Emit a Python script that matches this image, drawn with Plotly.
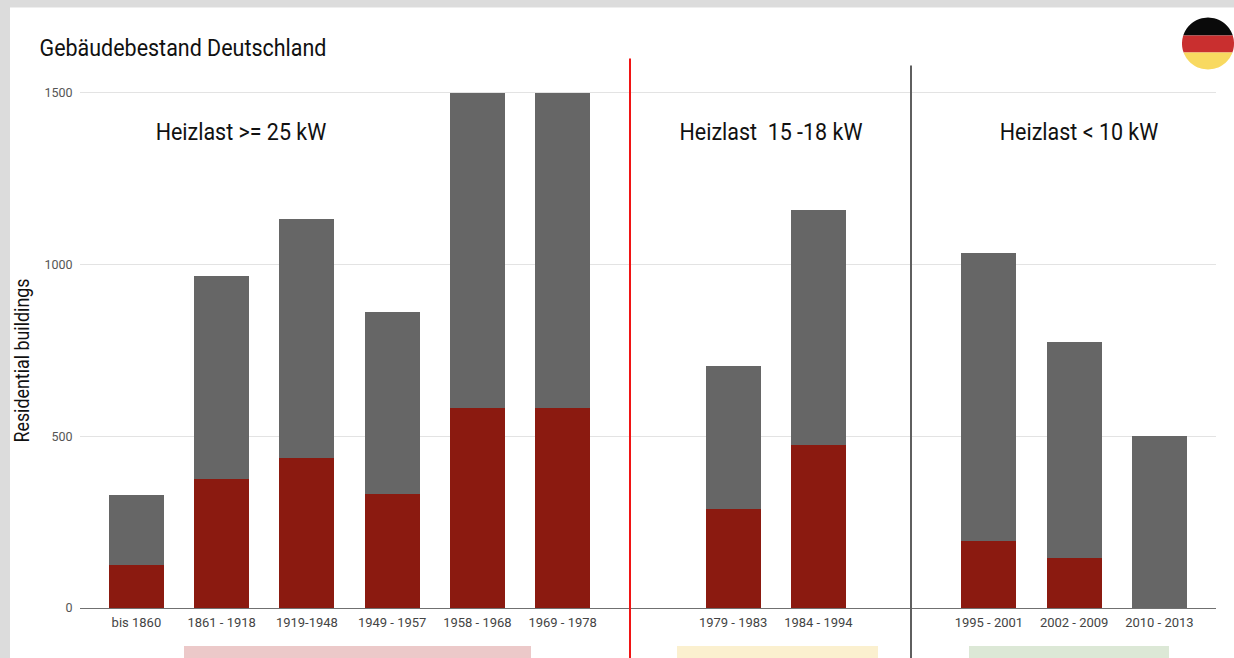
import math
import plotly.graph_objects as go

categories = ["bis 1860", "1861 - 1918", "1919-1948", "1949 - 1957", "1958 - 1968", "1969 - 1978",
              " ", "1979 - 1983", "1984 - 1994", "  ",
              "1995 - 2001", "2002 - 2009", "2010 - 2013"]
bar_categories = [c for c in categories if c.strip()]
red_values = [126, 375, 436, 331, 581, 581, 288, 474, 195, 145, 0]
gray_values = [202, 590, 695, 529, 919, 919, 415, 684, 837, 628, 500]
y_ticks = [0, 500, 1000, 1500]
title_text = "Gebäudebestand Deutschland"
y_title = "Residential buildings"
section_labels = ["Heizlast >= 25 kW", "Heizlast  15 -18 kW", "Heizlast < 10 kW"]

W, H = 1234, 658
L, R, T, B = 80, 1216, 89.5, 608
FONT = "Roboto, sans-serif"


def px(x):
    return (x - L) / (R - L)


def py(y):
    return (B - y) / (B - T)


def rect(x0, y0, x1, y1, color, layer="below"):
    return dict(type="rect", xref="paper", yref="paper", x0=px(x0), x1=px(x1), y0=py(y0), y1=py(y1),
                fillcolor=color, line_width=0, layer=layer)


def vline(x, y0, color, width):
    return dict(type="line", xref="paper", yref="paper", x0=px(x), x1=px(x), y0=py(y0), y1=py(H),
                line=dict(color=color, width=width), layer="above")


def band(cx, cy, r, y0, y1, color):
    """Slice of a circle between two pixel heights, as a closed polygon."""
    n = 24
    right, left = [], []
    for i in range(n + 1):
        y = y0 + (y1 - y0) * i / n
        dx = math.sqrt(max(r * r - (y - cy) ** 2, 0))
        right.append((cx + dx, y))
        left.append((cx - dx, y))
    pts = right + left[::-1]
    d = "M" + " L".join(f"{px(a):.5f},{py(b):.5f}" for a, b in pts) + " Z"
    return dict(type="path", xref="paper", yref="paper", path=d, fillcolor=color, line_width=0, layer="above")


fig = go.Figure()
fig.add_bar(x=bar_categories, y=red_values, marker=dict(color="#8b1a10", line_width=0), width=0.645,
            showlegend=False, name="red")
fig.add_bar(x=bar_categories, y=gray_values, marker=dict(color="#666666", line_width=0), width=0.645,
            showlegend=False, name="gray")

shapes = [
    rect(10, 7, W, H, "#ffffff"),
    rect(184, 646, 531, H, "#ecc9c9"),
    rect(677, 646, 878, H, "#fbf0cf"),
    rect(969, 646, 1169, H, "#dce8d6"),
    vline(630, 58, "#f01414", 2),
    vline(911, 65, "#5f5f5f", 2),
    band(1208, 43, 26, 17, 35, "#0a0a0a"),
    band(1208, 43, 26, 35, 52, "#c92f2f"),
    band(1208, 43, 26, 52, 69, "#f8d960"),
]


def label(text, x, y, size, color="#111111", angle=0):
    return dict(text=text, x=px(x), y=py(y), xref="paper", yref="paper", showarrow=False,
                xanchor="center", yanchor="middle", textangle=angle, font=dict(family=FONT, size=size, color=color))


annotations = [
    label(title_text, 183, 46.5, 24.4),
    label(section_labels[0], 241, 131, 24.4),
    label(section_labels[1], 771, 131, 24.4),
    label(section_labels[2], 1079, 131, 24.4),
    label(y_title, 22, 360.5, 20.3, angle=-90),
]

step = 85.25
px_per_unit = 516 / 1500
fig.update_layout(
    width=W, height=H, autosize=False,
    margin=dict(l=L, r=W - R, t=T, b=H - B),
    paper_bgcolor="#dcdcdc", plot_bgcolor="rgba(0,0,0,0)",
    barmode="stack", shapes=shapes, annotations=annotations,
    font=dict(family=FONT, color="#444444"),
    xaxis=dict(type="category", categoryorder="array", categoryarray=categories,
               tickmode="array", tickvals=categories, ticktext=categories,
               range=[(L - 136.4) / step, (R - 136.4) / step],
               showgrid=False, showline=True, linecolor="#707070", linewidth=1,
               ticks="", ticklabelstandoff=2,
               tickangle=0, tickfont=dict(size=13, color="#444444"), zeroline=False),
    yaxis=dict(range=[0, (B - T) / px_per_unit], tickvals=y_ticks, showgrid=True, gridcolor="#e3e3e3", gridwidth=1,
               zeroline=False, showline=False,
               ticks="outside", ticklen=4, tickcolor="rgba(0,0,0,0)",
               tickfont=dict(size=12.5, color="#555555")),
)

# Roboto Condensed is not installed: narrow the annotation texts to its proportions.
condense = """
var gd = document.getElementById('{plot_id}');
document.body.style.margin = '0';
document.body.style.overflow = 'hidden';
gd.querySelectorAll('.annotation-text').forEach(function (t) {
  t.setAttribute('textLength', t.getComputedTextLength() * 0.88);
  t.setAttribute('lengthAdjust', 'spacingAndGlyphs');
});
"""

fig.write_html("out.html", config={"displayModeBar": False}, post_script=condense)
